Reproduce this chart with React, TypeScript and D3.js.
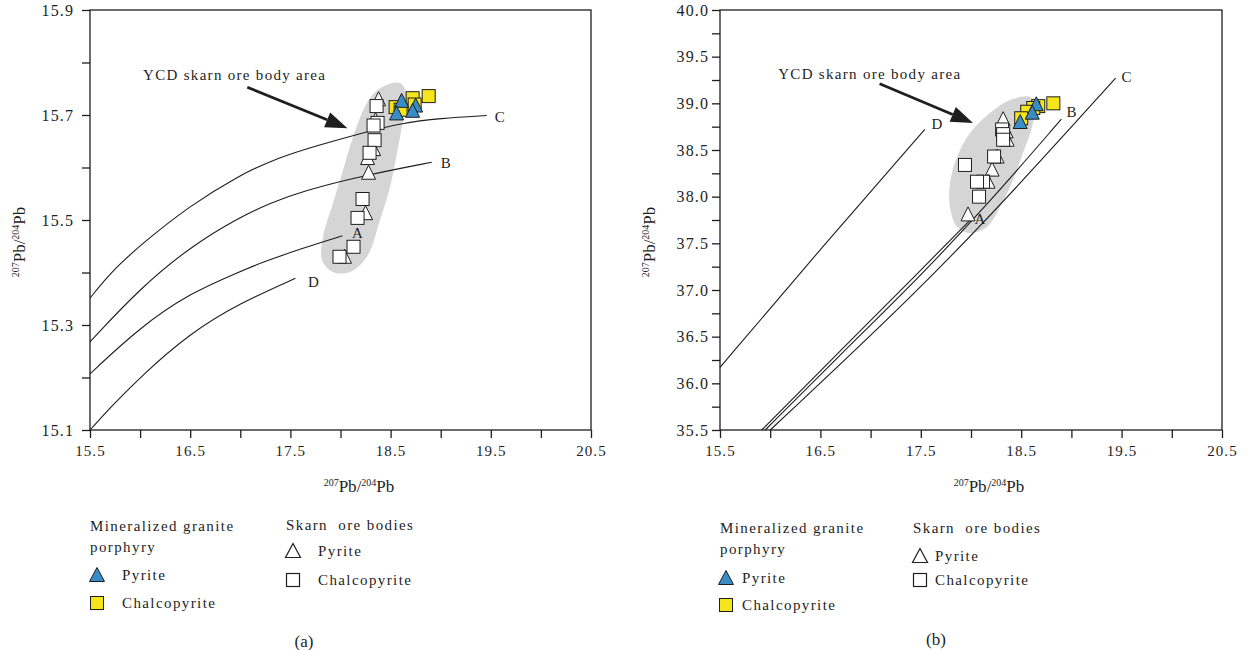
import React, { useEffect, useRef } from 'react'
import * as d3 from 'd3'

type Pt = [number, number]

const FONT = '"Liberation Serif", "Times New Roman", serif'
const INK = '#1e1e1e'
const BLUE = '#3a8cc6'
const YELLOW = '#f6e41c'
const AREA = '#d5d5d5'

// shared x axis
const xTicks = [15.5, 16, 16.5, 17, 17.5, 18, 18.5, 19, 19.5, 20, 20.5]
const xLabels = [15.5, 16.5, 17.5, 18.5, 19.5, 20.5]

// panel (a) axis
const yTicksA = [15.1, 15.2, 15.3, 15.4, 15.5, 15.6, 15.7, 15.8, 15.9]
const yLabelsA = [15.1, 15.3, 15.5, 15.7, 15.9]

// panel (b) axis
const yTicksB = [35.5, 35.75, 36, 36.25, 36.5, 36.75, 37, 37.25, 37.5, 37.75, 38, 38.25, 38.5, 38.75, 39, 39.25, 39.5, 39.75, 40]
const yLabelsB = [35.5, 36, 36.5, 37, 37.5, 38, 38.5, 39, 39.5, 40]

// panel (a) evolution curves
const curveC_a: Pt[] = [[15.5, 15.351], [15.7, 15.399], [16.0, 15.452], [16.5, 15.528], [17.0, 15.586], [17.3, 15.612], [17.6, 15.633], [18.26, 15.668], [18.59, 15.684], [19.0, 15.694], [19.46, 15.699]]
const curveB_a: Pt[] = [[15.5, 15.268], [16.0, 15.37], [16.5, 15.449], [17.0, 15.506], [17.3, 15.532], [17.6, 15.554], [18.26, 15.586], [18.91, 15.61]]
const curveA_a: Pt[] = [[15.5, 15.207], [16.0, 15.296], [16.5, 15.361], [17.0, 15.402], [17.2, 15.418], [17.6, 15.445], [18.02, 15.47]]
const curveD_a: Pt[] = [[15.5, 15.1], [15.7, 15.142], [16.0, 15.201], [16.5, 15.285], [17.0, 15.342], [17.55, 15.389]]
const curveNames = ['C', 'B', 'A', 'D']
const labelPos_a: Pt[] = [[19.59, 15.696], [19.05, 15.609], [18.17, 15.475], [17.73, 15.382]]

// panel (b) evolution lines
const curveC_b: Pt[] = [[16.0, 35.5], [17.49, 37.0], [18.5, 38.15], [19.44, 39.27]]
const curveB_b: Pt[] = [[15.95, 35.5], [16.7, 36.31], [17.49, 37.14], [18.2, 37.96], [18.9, 38.83]]
const curveA_b: Pt[] = [[15.915, 35.5], [16.7, 36.35], [17.49, 37.2], [18.0, 37.76]]
const curveD_b: Pt[] = [[15.5, 36.17], [16.5, 37.44], [17.54, 38.72]]
const labelPos_b: Pt[] = [[19.55, 39.29], [19.0, 38.91], [18.09, 37.76], [17.66, 38.78]]

// grey field outline
const area_a: Pt[] = [[18.594, 15.761], [18.664, 15.734], [18.624, 15.69], [18.564, 15.628], [18.494, 15.563], [18.394, 15.5], [18.264, 15.43], [18.095, 15.401], [17.925, 15.401], [17.815, 15.424], [17.825, 15.468], [17.925, 15.532], [18.025, 15.595], [18.125, 15.658], [18.264, 15.723], [18.394, 15.751]]
const area_b: Pt[] = [[18.588, 39.068], [18.637, 38.982], [18.608, 38.746], [18.518, 38.468], [18.418, 38.179], [18.289, 37.889], [18.159, 37.675], [17.99, 37.611], [17.861, 37.675], [17.791, 37.889], [17.791, 38.146], [17.861, 38.425], [17.99, 38.682], [18.189, 38.896], [18.388, 39.036]]

// samples (a)
const skarnPy_a: Pt[] = [[18.38, 15.73], [18.35, 15.69], [18.33, 15.635], [18.27, 15.618], [18.28, 15.59], [18.25, 15.513], [18.04, 15.43]]
const skarnCcp_a: Pt[] = [[18.36, 15.717], [18.37, 15.685], [18.33, 15.68], [18.34, 15.652], [18.29, 15.628], [18.22, 15.54], [18.17, 15.504], [18.13, 15.449], [17.99, 15.43]]
const porCcp_a: Pt[] = [[18.88, 15.736], [18.72, 15.732], [18.55, 15.715], [18.74, 15.72], [18.6, 15.71]]
const porPy_a: Pt[] = [[18.61, 15.727], [18.75, 15.718], [18.56, 15.703], [18.72, 15.708]]

// samples (b)
const skarnPy_b: Pt[] = [[18.32, 38.83], [18.35, 38.7], [18.36, 38.61], [18.26, 38.43], [18.21, 38.29], [18.17, 38.16], [17.97, 37.81]]
const skarnCcp_b: Pt[] = [[18.31, 38.72], [18.32, 38.67], [18.32, 38.61], [18.23, 38.43], [17.94, 38.34], [18.12, 38.16], [18.06, 38.16], [18.08, 38.0]]
const porCcp_b: Pt[] = [[18.82, 39.0], [18.67, 38.97], [18.62, 38.95], [18.56, 38.91], [18.5, 38.84]]
const porPy_b: Pt[] = [[18.65, 38.99], [18.61, 38.9], [18.49, 38.8]]

// annotation arrow: text anchor, tail, tip
const note_a: Pt[] = [[16.03, 15.767], [17.07, 15.753], [18.07, 15.675]]
const note_b: Pt[] = [[16.08, 39.26], [17.09, 39.21], [18.02, 38.79]]

const tri = (x: number, y: number, w = 14, h = 13) =>
  `M${x},${y - h / 2 - 1}L${x + w / 2},${y + h / 2}L${x - w / 2},${y + h / 2}Z`

const Sup = ({ n }: { n: string }) => (
  <>
    <tspan fontSize={10} dy={-6}>{n}</tspan>
    <tspan dy={6}>Pb</tspan>
  </>
)

const AxisTitle = () => (
  <>
    <Sup n="207" />
    <tspan>/</tspan>
    <Sup n="204" />
  </>
)

const Panel = ({ left, right, top, bottom, yDomain, yTicks, yLabels, yPad, curves, labelPos, area, py, ccp, pPy, pCcp, note, xTitle, yTitleX }: any) => {
  const gx = useRef<SVGGElement>(null)
  const gy = useRef<SVGGElement>(null)
  const x = d3.scaleLinear().domain([15.5, 20.5]).range([left, right])
  const y = d3.scaleLinear().domain(yDomain).range([bottom, top])

  useEffect(() => {
    const f = d3.format('.1f')
    const xAxis = d3.axisBottom(x).tickValues(xTicks).tickSize(8).tickSizeOuter(0).tickPadding(7)
      .tickFormat((d: any) => (xLabels.includes(+d) ? f(d) : ''))
    const yAxis = d3.axisLeft(y).tickValues(yTicks).tickSize(8).tickSizeOuter(0).tickPadding(yPad)
      .tickFormat((d: any) => (yLabels.includes(+d) ? f(d) : ''))
    for (const [g, ax, fs] of [[gx.current, xAxis, 15], [gy.current, yAxis, 16]] as any) {
      const sel = d3.select(g).call(ax)
      sel.select('.domain').remove()
      sel.selectAll('line').attr('stroke', INK).attr('stroke-width', 1.3)
      sel.selectAll('text').attr('font-family', FONT).attr('font-size', fs)
        .attr('letter-spacing', 1.1).attr('fill', INK)
    }
  }, [])

  const line = d3.line<Pt>().x(d => x(d[0])).y(d => y(d[1])).curve(d3.curveBasis)
  const blob = d3.line<Pt>().x(d => x(d[0])).y(d => y(d[1])).curve(d3.curveCatmullRomClosed)

  const [t0, a0, a1] = note
  const p0 = [x(a0[0]), y(a0[1])], p1 = [x(a1[0]), y(a1[1])]
  const len = Math.hypot(p1[0] - p0[0], p1[1] - p0[1])
  const ux = (p1[0] - p0[0]) / len, uy = (p1[1] - p0[1]) / len
  const bx = p1[0] - ux * 22, by = p1[1] - uy * 22
  const head = `M${p1[0]},${p1[1]}L${bx - uy * 8},${by + ux * 8}L${bx + uy * 8},${by - ux * 8}Z`

  return (
    <g>
      <path d={blob(area) ?? ''} fill={AREA} />
      {curves.map((c: Pt[], i: number) => (
        <path key={i} d={line(c) ?? ''} fill="none" stroke={INK} strokeWidth={1.1} />
      ))}
      <g fontFamily={FONT} fontSize={15} fill={INK} textAnchor="middle">
        {labelPos.map((p: Pt, i: number) => (
          <text key={i} x={x(p[0])} y={y(p[1])} dy="0.35em">{curveNames[i]}</text>
        ))}
      </g>
      <rect x={left} y={top} width={right - left} height={bottom - top} fill="none" stroke={INK} strokeWidth={1.3} />
      <g ref={gx} transform={`translate(0,${bottom})`} />
      <g ref={gy} transform={`translate(${left},0)`} />
      <g stroke={INK} strokeWidth={1}>
        {py.map((p: Pt, i: number) => <path key={'t' + i} d={tri(x(p[0]), y(p[1]))} fill="#fff" />)}
        {ccp.map((p: Pt, i: number) => <rect key={'s' + i} x={x(p[0]) - 6.5} y={y(p[1]) - 6.5} width={13} height={13} fill="#fff" />)}
        {pCcp.map((p: Pt, i: number) => <rect key={'y' + i} x={x(p[0]) - 6.5} y={y(p[1]) - 6.5} width={13} height={13} fill={YELLOW} />)}
        {pPy.map((p: Pt, i: number) => <path key={'b' + i} d={tri(x(p[0]), y(p[1]))} fill={BLUE} />)}
      </g>
      <text x={x(t0[0])} y={y(t0[1])} fontFamily={FONT} fontSize={15} letterSpacing={1.3} fill={INK}>YCD skarn ore body area</text>
      <line x1={p0[0]} y1={p0[1]} x2={bx} y2={by} stroke={INK} strokeWidth={2.8} />
      <path d={head} fill={INK} />
      <text x={xTitle} y={492} textAnchor="middle" fontFamily={FONT} fontSize={17} fill={INK}><AxisTitle /></text>
      <text transform={`translate(${yTitleX},${242}) rotate(-90)`} textAnchor="middle" fontFamily={FONT} fontSize={17} fill={INK}><AxisTitle /></text>
    </g>
  )
}

const Legend = ({ x0, rows, sx, tag, tagX, tagY }: any) => {
  const [t1, t2, r1, r2, s0, s1, s2] = rows
  return (
    <g fontFamily={FONT} fontSize={15} letterSpacing={1.4} fill={INK}>
      <text x={x0} y={t1 + 5}>Mineralized granite</text>
      <text x={x0} y={t2 + 5}>porphyry</text>
      <path d={tri(x0 + sx[0], r1, 15, 13)} fill={BLUE} stroke={INK} strokeWidth={1} />
      <text x={x0 + sx[1]} y={r1 + 5}>Pyrite</text>
      <rect x={x0 + sx[0] - 6.5} y={r2 - 6.5} width={13} height={13} fill={YELLOW} stroke={INK} strokeWidth={1} />
      <text x={x0 + sx[1]} y={r2 + 5}>Chalcopyrite</text>
      <text x={x0 + sx[2]} y={s0 + 5} style={{ whiteSpace: 'pre' }}>Skarn  ore bodies</text>
      <path d={tri(x0 + sx[3], s1, 15, 13)} fill="#fff" stroke={INK} strokeWidth={1.2} />
      <text x={x0 + sx[4]} y={s1 + 5}>Pyrite</text>
      <rect x={x0 + sx[3] - 6.5} y={s2 - 6.5} width={13} height={13} fill="#fff" stroke={INK} strokeWidth={1.2} />
      <text x={x0 + sx[4]} y={s2 + 5}>Chalcopyrite</text>
      <text x={tagX} y={tagY} fontSize={17} letterSpacing={0} textAnchor="middle">{tag}</text>
    </g>
  )
}

export default function App() {
  return (
    <svg width={1249} height={650} style={{ position: 'absolute', left: 0, top: 0, background: '#fff' }}>
      <Panel left={90} right={591} top={10} bottom={430} yDomain={[15.1, 15.9]} yTicks={yTicksA} yLabels={yLabelsA} yPad={8}
        curves={[curveC_a, curveB_a, curveA_a, curveD_a]} labelPos={labelPos_a} area={area_a}
        py={skarnPy_a} ccp={skarnCcp_a} pPy={porPy_a} pCcp={porCcp_a} note={note_a} xTitle={359} yTitleX={25} />
      <Panel left={720} right={1222} top={10} bottom={430} yDomain={[35.5, 40]} yTicks={yTicksB} yLabels={yLabelsB} yPad={3}
        curves={[curveC_b, curveB_b, curveA_b, curveD_b]} labelPos={labelPos_b} area={area_b}
        py={skarnPy_b} ccp={skarnCcp_b} pPy={porPy_b} pCcp={porCcp_b} note={note_b} xTitle={989} yTitleX={655} />
      <Legend x0={90} rows={[526, 547, 575, 603, 525, 551, 580]} sx={[7, 32, 196, 203, 228]} tag="(a)" tagX={304} tagY={647} />
      <Legend x0={720} rows={[528, 549, 578, 605, 528, 556, 580]} sx={[6, 22, 193, 200, 215]} tag="(b)" tagX={936} tagY={645} />
    </svg>
  )
}
